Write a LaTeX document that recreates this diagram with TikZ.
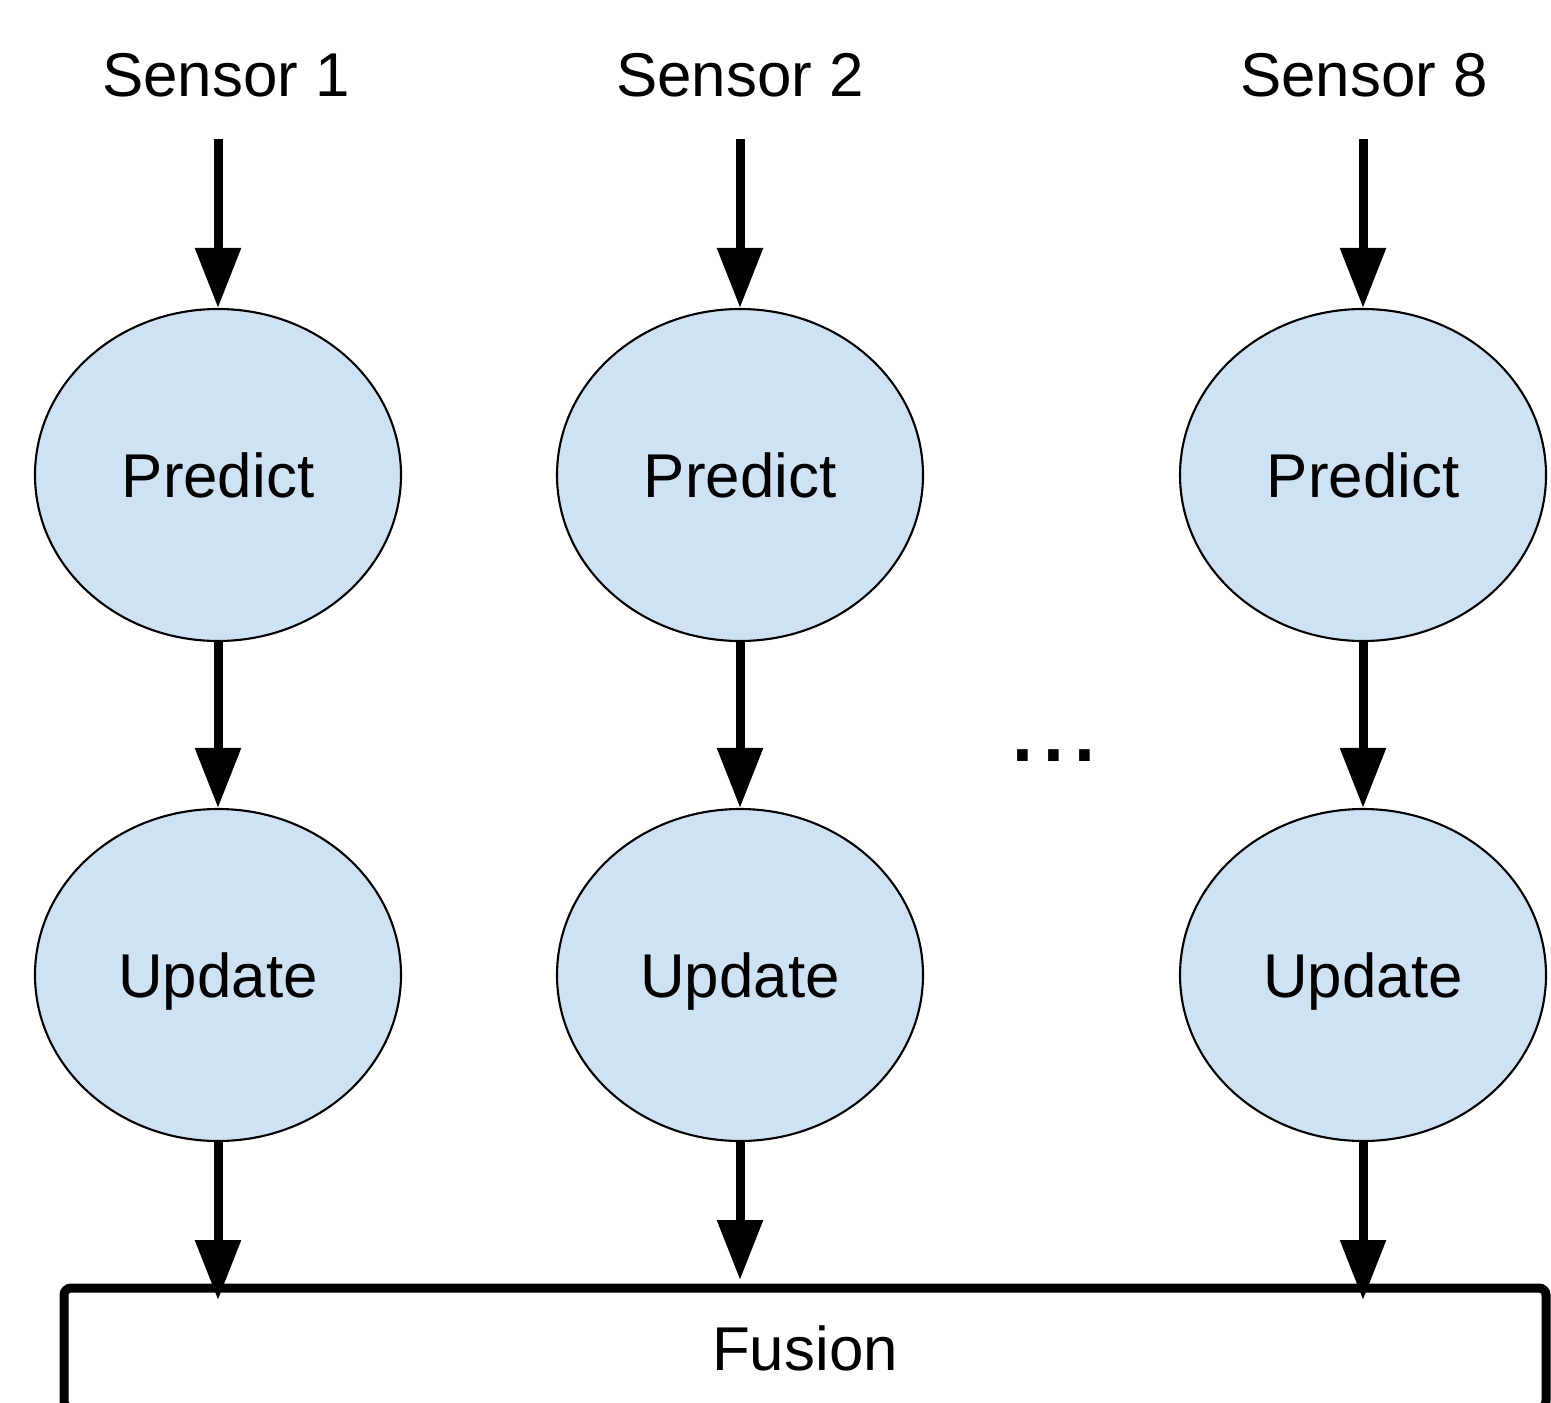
\documentclass[tikz,border=0pt]{standalone}
\usepackage{fontspec}
\setmainfont{Liberation Sans}
\usetikzlibrary{arrows.meta,shapes.geometric,calc}
\definecolor{stageblue}{HTML}{CFE2F3}

\begin{document}
\begin{tikzpicture}[every node/.style={font=\fontsize{17.6}{21}\selectfont},
  stage/.style={ellipse,draw,line width=0.6pt,fill=stageblue,minimum width=3.66cm,minimum height=3.32cm,inner sep=0pt,text depth=0pt},
  flow/.style={line width=0.09cm,-{Triangle[length=0.6cm,width=0.44cm]}}]
\useasboundingbox (0,0) rectangle (15.51,14.02);
\clip (0,0) rectangle (15.51,14.02);
% fusion block at the bottom, open below the page edge
\node[draw,line width=0.09cm,rounded corners=2pt,outer sep=0pt,minimum width=14.82cm,minimum height=1.2cm,anchor=north] (fusion) at (8.05,1.14) {Fusion};
% one predict/update chain per sensor
\foreach \i/\sx/\cx/\n/\sh in {1/2.26/2.18/1/-0.12, 2/7.40/7.40/2/0.08, 3/13.64/13.63/8/-0.12}{
  \node (s\i) at (\sx,13.27) {Sensor \n};
  \node[stage] (p\i) at (\cx,9.27) {Predict};
  \node[stage] (u\i) at (\cx,4.27) {Update};
  \draw[flow,shorten <=0.3cm] (p\i.north |- s\i.south) -- (p\i);
  \draw[flow] (p\i) -- (u\i);
  \draw[flow,shorten >=\sh cm] (u\i) -- (u\i |- fusion.north);
}
\node[font=\fontsize{31.5}{34}\selectfont,inner sep=0pt] (dots) at (10.54,6.46) {...};
\end{tikzpicture}
\end{document}
